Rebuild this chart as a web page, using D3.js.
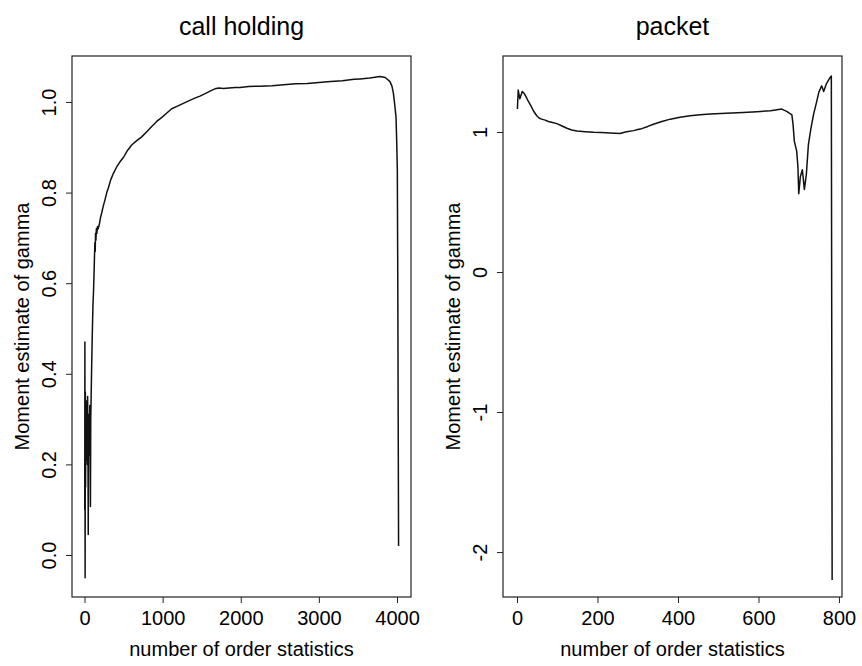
<!DOCTYPE html>
<html>
<head>
<meta charset="utf-8">
<script src="https://cdn.jsdelivr.net/npm/d3@7"></script>
<style>
  body { margin: 0; background: #fff; }
  text { font-family: "Liberation Sans", Arial, Helvetica, sans-serif; fill: #000; }
</style>
</head>
<body>
<svg width="862" height="666"></svg>
<script>
var width = 862;
var height = 666;

// call holding: k (order statistics), moment estimate of gamma
var callK = [3, 5, 8, 11, 14, 17, 20, 24, 28, 32, 36, 40, 44, 48, 52, 56, 60, 64, 68, 72, 76, 80, 85, 92, 100,
  108, 115, 122, 128, 133, 137, 141, 146, 152, 158, 166, 175, 190, 205, 220, 240, 262, 285, 305, 335, 369,
  410, 454, 500, 550, 604, 665, 732, 800, 860, 924, 990, 1050, 1116, 1190, 1265, 1340, 1420, 1478, 1550,
  1620, 1670, 1720, 1777, 1850, 1930, 1990, 2100, 2246, 2400, 2550, 2700, 2850, 3000, 3150, 3300, 3450,
  3527, 3650, 3782, 3850, 3910, 3935, 3953, 3970, 3987, 3995, 4004, 4010, 4015, 4020];
var callGamma = [0.10, 0.47, -0.05, 0.36, 0.15, 0.33, 0.21, 0.34, 0.24, 0.30, 0.20, 0.35, 0.25, 0.045, 0.31,
  0.22, 0.30, 0.26, 0.33, 0.23, 0.107, 0.30, 0.35, 0.42, 0.49, 0.55, 0.58, 0.62, 0.66, 0.69, 0.67, 0.71,
  0.695, 0.72, 0.71, 0.725, 0.72, 0.73, 0.745, 0.755, 0.77, 0.784, 0.80, 0.81, 0.828, 0.842, 0.856, 0.868,
  0.878, 0.893, 0.905, 0.914, 0.923, 0.935, 0.946, 0.957, 0.966, 0.975, 0.985, 0.991, 0.997, 1.003, 1.009,
  1.013, 1.019, 1.025, 1.029, 1.031, 1.030, 1.031, 1.032, 1.032, 1.034, 1.035, 1.036, 1.038, 1.040, 1.041,
  1.043, 1.045, 1.047, 1.050, 1.051, 1.053, 1.056, 1.054, 1.045, 1.035, 1.020, 0.995, 0.967, 0.92, 0.85,
  0.60, 0.30, 0.02];

// packet
var packetK = [1, 3, 7, 13, 18, 22, 28, 34, 41, 49, 55, 61, 70, 78, 88, 99, 112, 124, 136, 149, 170, 190,
  210, 231, 256, 265, 272, 290, 300, 310, 325, 339, 360, 381, 405, 430, 455, 480, 520, 562, 596, 630, 658,
  670, 683, 686, 689, 695, 698, 700, 704, 709, 714, 719, 724, 730, 737, 744, 750, 757, 762, 768, 774, 778,
  781, 783];
var packetGamma = [1.165, 1.30, 1.237, 1.29, 1.275, 1.254, 1.22, 1.19, 1.15, 1.116, 1.10, 1.092, 1.085,
  1.075, 1.068, 1.06, 1.043, 1.027, 1.015, 1.007, 1.002, 0.998, 0.996, 0.993, 0.99, 0.997, 1.002, 1.010,
  1.018, 1.024, 1.040, 1.056, 1.075, 1.092, 1.106, 1.116, 1.123, 1.128, 1.134, 1.14, 1.145, 1.152, 1.164,
  1.147, 1.123, 1.05, 0.935, 0.862, 0.75, 0.56, 0.68, 0.73, 0.59, 0.70, 0.91, 1.02, 1.128, 1.21, 1.285,
  1.33, 1.29, 1.34, 1.37, 1.39, 1.40, -2.2];

var callXTicks = [0, 1000, 2000, 3000, 4000];
var callYTicks = [0.0, 0.2, 0.4, 0.6, 0.8, 1.0];
var packetXTicks = [0, 200, 400, 600, 800];
var packetYTicks = [-2, -1, 0, 1];

var svg = d3.select("svg")
            .attr("width", width)
            .attr("height", height);

// plain hyphen for negatives, like the original
var intFmt = function(d) { return String(d); };

var panels = [
    { title: "call holding", k: callK, g: callGamma, xDomain: [-160, 4179], yDomain: [-0.0927, 1.1015],
      xTicks: callXTicks, yTicks: callYTicks, yFmt: d3.format(".1f"), left: 0 },
    { title: "packet", k: packetK, g: packetGamma, xDomain: [-34.8, 807.5], yDomain: [-2.321, 1.543],
      xTicks: packetXTicks, yTicks: packetYTicks, yFmt: intFmt, left: 431 }
];

var box = { x0: 72, x1: 411, y0: 56, y1: 597 };

panels.forEach(function(p) {
    var g = svg.append("g")
        .attr("transform", "translate(" + p.left + ",0)");

    var x = d3.scaleLinear().domain(p.xDomain).range([box.x0, box.x1]);
    var y = d3.scaleLinear().domain(p.yDomain).range([box.y1, box.y0]);

    // frame
    g.append("rect")
        .attr("x", box.x0)
        .attr("y", box.y0)
        .attr("width", box.x1 - box.x0)
        .attr("height", box.y1 - box.y0)
        .attr("fill", "none")
        .attr("stroke", "#222")
        .attr("stroke-width", 1.2);

    // x axis
    var xAxis = d3.axisBottom(x)
        .tickValues(p.xTicks)
        .tickSize(6)
        .tickPadding(8)
        .tickFormat(intFmt);
    var gx = g.append("g")
        .attr("transform", "translate(0," + box.y1 + ")")
        .call(xAxis);
    gx.select(".domain").remove();
    gx.selectAll("line").attr("stroke", "#222");
    gx.selectAll("text")
        .attr("font-size", 20)
        .attr("font-family", "Liberation Sans, Arial, sans-serif");

    // y axis, labels parallel to axis
    var yAxis = d3.axisLeft(y)
        .tickValues(p.yTicks)
        .tickSize(6)
        .tickFormat(p.yFmt);
    var gy = g.append("g")
        .attr("transform", "translate(" + box.x0 + ",0)")
        .call(yAxis);
    gy.select(".domain").remove();
    gy.selectAll("line").attr("stroke", "#222");
    gy.selectAll("text")
        .attr("x", 0)
        .attr("dy", 0)
        .attr("font-size", 20)
        .attr("font-family", "Liberation Sans, Arial, sans-serif")
        .attr("text-anchor", "middle")
        .attr("transform", "translate(-16,0) rotate(-90)");

    // the curve
    var pts = p.k.map(function(k, i) { return [k, p.g[i]]; });
    var line = d3.line()
        .x(function(d) { return x(d[0]); })
        .y(function(d) { return y(d[1]); });
    g.append("path")
        .attr("d", line(pts))
        .attr("fill", "none")
        .attr("stroke", "#111")
        .attr("stroke-width", 1.5)
        .attr("stroke-linejoin", "round");

    // titles
    g.append("text")
        .attr("x", (box.x0 + box.x1) / 2)
        .attr("y", 35)
        .attr("text-anchor", "middle")
        .attr("font-size", 25)
        .text(p.title);

    g.append("text")
        .attr("x", (box.x0 + box.x1) / 2)
        .attr("y", 656)
        .attr("text-anchor", "middle")
        .attr("font-size", 20)
        .text("number of order statistics");

    g.append("text")
        .attr("transform", "translate(29," + (box.y0 + box.y1) / 2 + ") rotate(-90)")
        .attr("text-anchor", "middle")
        .attr("font-size", 20)
        .text("Moment estimate of gamma");
});
</script>
</body>
</html>
